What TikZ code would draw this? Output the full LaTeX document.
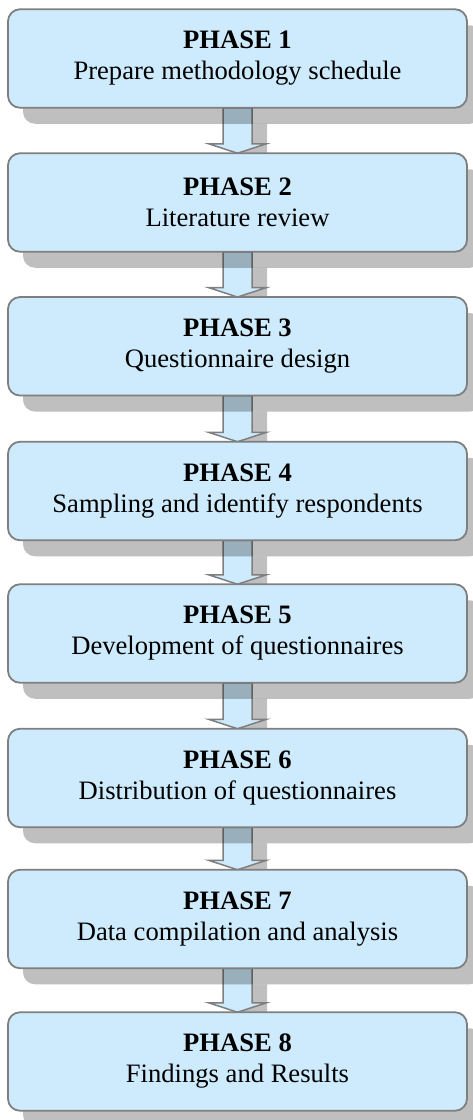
\documentclass[tikz,border=0pt]{standalone}
\usepackage{fontspec}
\setmainfont{Liberation Serif}
\usetikzlibrary{calc,shadows}
\pgfdeclarelayer{back}
\pgfsetlayers{back,main}
\definecolor{boxfill}{HTML}{CDEBFC}
\definecolor{edge}{HTML}{7F7F7F}
\tikzset{
  phasebox/.style={draw=edge, line width=1.8pt, fill=boxfill, rounded corners=12pt,
    minimum width=459pt, minimum height=98.5pt, outer sep=0pt, inner sep=0pt,
    align=center, font=\fontsize{26.6pt}{31pt}\selectfont,
    drop shadow={shadow xshift=15pt, shadow yshift=-16pt, fill=black, opacity=0.25}},
  flowarrow/.style={draw=edge, line width=1.5pt, fill=boxfill, line join=miter},
  arrowshadow/.style={fill=black, opacity=0.25}
}
% block arrow from the bottom of #1 to the top of #2, displaced by (#3,#4)
\newcommand{\downarrowpath}[4]{%
  ($(#1.south)+(-14.5+#3,#4)$) -- ($(#2.north)+(-14.5+#3,9.5+#4)$)
  -- ($(#2.north)+(-29+#3,9.5+#4)$) -- ($(#2.north)+(#3,#4)$)
  -- ($(#2.north)+(29+#3,9.5+#4)$) -- ($(#2.north)+(14.5+#3,9.5+#4)$)
  -- ($(#1.south)+(14.5+#3,#4)$) -- cycle}
\begin{document}
\begin{tikzpicture}[x=1pt,y=1pt]
\useasboundingbox (0,0) rectangle (472,-1120);
\foreach \i/\y/\t in {1/58.5/Prepare methodology schedule,
                      2/202.5/Literature review,
                      3/346.3/Questionnaire design,
                      4/491/Sampling and identify respondents,
                      5/633.5/Development of questionnaires,
                      6/778/Distribution of questionnaires,
                      7/919/Data compilation and analysis,
                      8/1061.5/Findings and Results}{
  \node[phasebox] (b\i) at (237.5,-\y) {\textbf{PHASE \i}\\\t};
}
% block arrows between consecutive phases, kept behind the boxes
\begin{pgfonlayer}{back}
\foreach \i [evaluate=\i as \j using int(\i+1)] in {1,...,7}{
  \fill[arrowshadow] \downarrowpath{b\i}{b\j}{15}{-16};
  \path[flowarrow] \downarrowpath{b\i}{b\j}{0}{0};
}
\end{pgfonlayer}
\end{tikzpicture}
\end{document}
